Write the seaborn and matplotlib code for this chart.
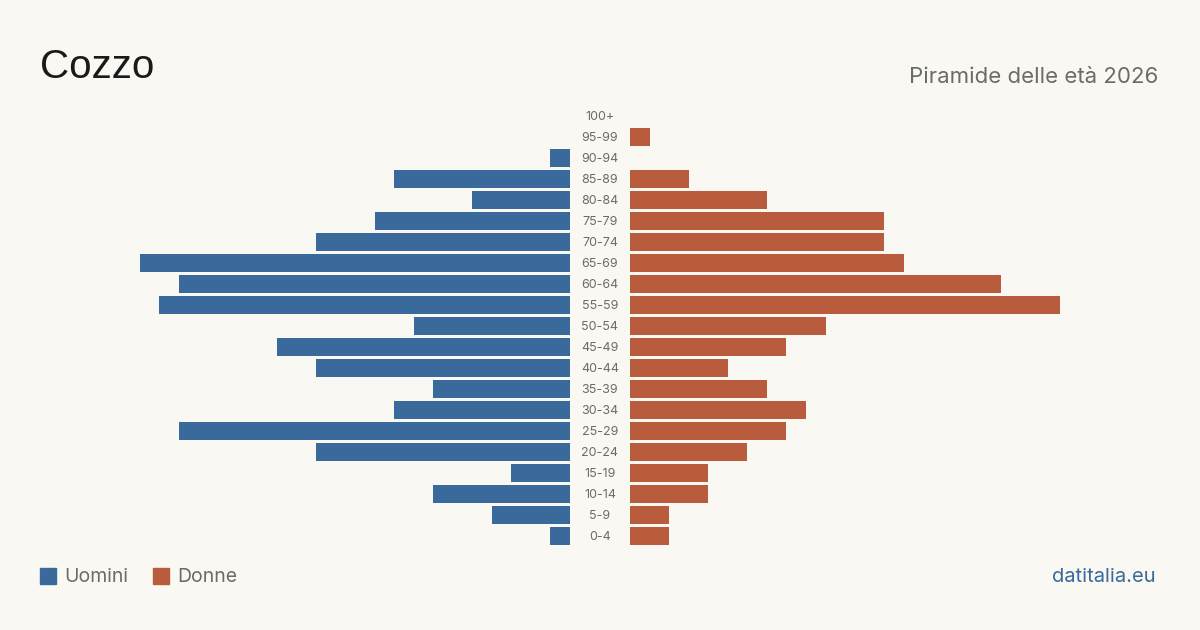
import matplotlib
matplotlib.use("Agg")
import matplotlib.pyplot as plt
import seaborn as sns
import pandas as pd
from matplotlib.patches import Rectangle

ages = ["100+", "95-99", "90-94", "85-89", "80-84", "75-79", "70-74", "65-69",
        "60-64", "55-59", "50-54", "45-49", "40-44", "35-39", "30-34", "25-29",
        "20-24", "15-19", "10-14", "5-9", "0-4"]
men = [0, 0, 1, 9, 5, 10, 13, 22, 20, 21, 8, 15, 13, 7, 9, 20, 13, 3, 7, 4, 1]
women = [0, 1, 0, 3, 7, 13, 13, 14, 19, 22, 10, 8, 5, 7, 9, 8, 6, 4, 4, 2, 2]

title = "Cozzo"
subtitle = "Piramide delle età 2026"
legend_labels = ["Uomini", "Donne"]
source = "datitalia.eu"

BG = "#f9f8f3"
BLUE = "#3a6a9b"
ORANGE = "#b85c3d"
GRAY = "#6b6b6b"

sns.set_style("white")
plt.rcParams["font.family"] = ["Inter", "DejaVu Sans"]

W, H = 1200, 630
fig = plt.figure(figsize=(12, 6.3), dpi=100)
fig.patch.set_facecolor(BG)

df = pd.DataFrame({"age": ages, "men": men, "women": women})

top_px, bot_px = 105.5, 546.5
y0 = (H - bot_px) / H
h = (bot_px - top_px) / H
unit = 19.55
xmax = 22

axL = fig.add_axes([(570 - xmax * unit) / W, y0, xmax * unit / W, h])
axR = fig.add_axes([630 / W, y0, xmax * unit / W, h])

sns.barplot(data=df, x="men", y="age", order=ages, orient="h", color=BLUE,
            width=0.81, saturation=1, linewidth=0, ax=axL)
sns.barplot(data=df, x="women", y="age", order=ages, orient="h", color=ORANGE,
            width=0.81, saturation=1, linewidth=0, ax=axR)

for ax in (axL, axR):
    ax.set_facecolor("none")
    ax.set_xlabel("")
    ax.set_ylabel("")
    ax.set_xticks([])
    ax.set_yticks([])
    ax.set_ylim(len(ages) - 0.5, -0.5)
    for s in ax.spines.values():
        s.set_visible(False)
axL.set_xlim(xmax, 0)
axR.set_xlim(0, xmax)

# age labels in the middle
for i, a in enumerate(ages):
    yc = top_px + 11.5 + 21 * i
    fig.text(600 / W, 1 - yc / H, a, ha="center", va="center",
             fontsize=9, color=GRAY)

fig.text(40 / W, 1 - 67 / H, title, ha="left", va="center", fontsize=29,
         color="#1a1a1a", family=["Liberation Sans", "DejaVu Sans"])
fig.text(1158 / W, 1 - 77 / H, subtitle, ha="right", va="center",
         fontsize=16, color=GRAY)

# legend
fig.patches.append(Rectangle((40 / W, 1 - 584 / H), 16 / W, 16 / H,
                             transform=fig.transFigure, color=BLUE))
fig.text(64 / W, 1 - 577 / H, legend_labels[0], ha="left", va="center",
         fontsize=14, color=GRAY)
fig.patches.append(Rectangle((153 / W, 1 - 584 / H), 16 / W, 16 / H,
                             transform=fig.transFigure, color=ORANGE))
fig.text(177 / W, 1 - 577 / H, legend_labels[1], ha="left", va="center",
         fontsize=14, color=GRAY)

fig.text(1156 / W, 1 - 577 / H, source, ha="right", va="center",
         fontsize=14.5, color=BLUE)

fig.savefig("out.png", dpi=100, facecolor=BG)
